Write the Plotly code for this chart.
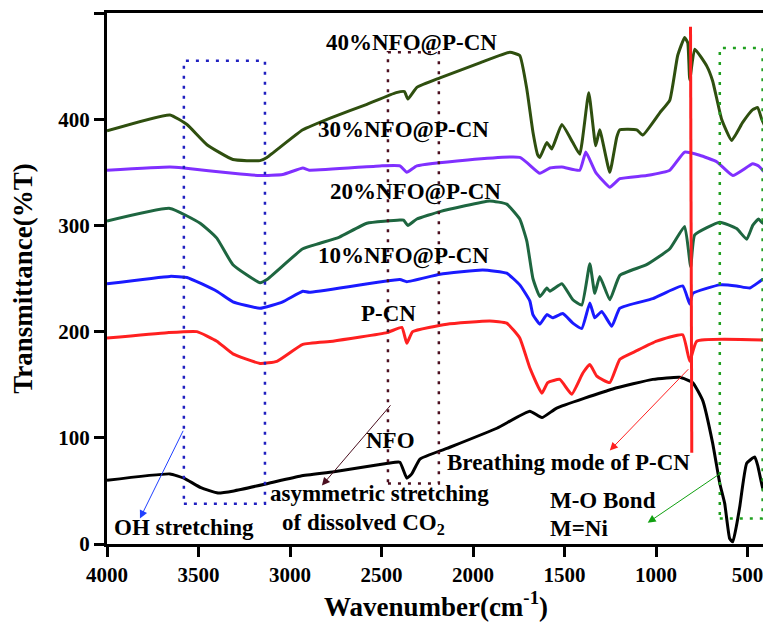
import plotly.graph_objects as go

# ---- data ----
wn_40 = [4000, 3656, 3563, 3454, 3312, 3164, 3126, 2930, 2766, 2580, 2420, 2375, 2356, 2307, 2181, 1963, 1799, 1745, 1706, 1673, 1646, 1635, 1597, 1570, 1515, 1455, 1417, 1368, 1330, 1308, 1253, 1215, 1198, 1106, 1073, 980, 925, 882, 844, 827, 816, 789, 723, 691, 642, 587, 527, 472, 445, 423, 407]
t_40 = [389, 404, 395, 376, 362, 361, 364, 390, 402, 414, 425, 426, 419, 430, 439, 453, 463, 460, 428, 388, 366, 364, 378, 372, 395, 378, 367, 425, 375, 390, 350, 383, 390, 390, 385, 406, 418, 460, 477, 472, 437, 466, 450, 436, 400, 380, 397, 409, 411, 400, 394]

wn_30 = [4000, 3656, 3580, 3312, 3164, 3040, 2930, 2895, 2509, 2400, 2362, 2307, 1745, 1635, 1580, 1515, 1417, 1384, 1330, 1253, 1198, 1052, 925, 844, 762, 669, 581, 472, 440, 407]
t_30 = [352, 355, 354, 349, 347, 348, 354, 352, 356, 356, 350, 356, 364, 349, 354, 355, 352, 369, 350, 336, 344, 347, 352, 369, 366, 360, 347, 358, 356, 350]

wn_20 = [4000, 3656, 3491, 3400, 3312, 3164, 3126, 2930, 2840, 2730, 2580, 2400, 2380, 2356, 2307, 2181, 1909, 1816, 1745, 1706, 1673, 1635, 1597, 1580, 1515, 1455, 1406, 1362, 1335, 1308, 1253, 1198, 1052, 925, 844, 811, 789, 652, 560, 505, 472, 440, 418, 407]
t_20 = [304, 316, 302, 288, 263, 246, 249, 278, 283, 289, 302, 305, 305, 300, 306, 313, 323, 320, 306, 285, 250, 233, 241, 238, 245, 230, 225, 264, 236, 252, 230, 253, 263, 278, 299, 261, 291, 303, 297, 287, 300, 306, 302, 306]

wn_10 = [4000, 3656, 3563, 3400, 3312, 3164, 3040, 2930, 2895, 2400, 2362, 2181, 1947, 1816, 1745, 1690, 1673, 1635, 1597, 1565, 1510, 1455, 1406, 1362, 1335, 1297, 1242, 1198, 1018, 855, 816, 800, 652, 560, 488, 418, 407]
t_10 = [245, 252, 251, 238, 228, 222, 228, 238, 237, 249, 247, 254, 258, 255, 244, 229, 216, 207, 216, 213, 217, 208, 203, 227, 213, 219, 205, 222, 231, 243, 226, 236, 244, 243, 241, 249, 249]

wn_pcn = [4000, 3672, 3509, 3400, 3312, 3164, 3072, 2930, 2766, 2470, 2389, 2362, 2330, 2143, 1909, 1816, 1745, 1690, 1624, 1592, 1526, 1461, 1400, 1362, 1324, 1253, 1198, 1106, 997, 855, 816, 778, 407]
t_pcn = [194, 199, 200, 191, 179, 170, 172, 188, 191, 199, 204, 189, 200, 207, 210, 208, 194, 166, 142, 152, 155, 141, 161, 169, 158, 152, 174, 182, 191, 197, 172, 191, 192]

wn_nfo = [4000, 3656, 3580, 3487, 3394, 3307, 3121, 2941, 2760, 2465, 2400, 2362, 2335, 2290, 2143, 1870, 1690, 1624, 1543, 1237, 1018, 871, 800, 745, 691, 652, 625, 598, 581, 560, 543, 505, 461, 445, 418, 407]
t_nfo = [60, 66, 62, 53, 48, 50, 57, 64, 68, 76, 77, 62, 66, 80, 90, 109, 125, 119, 128, 146, 155, 157, 152, 135, 95, 57, 38, 5, 2, 18, 35, 76, 82, 74, 53, 49]

series_names = ["40%NFO@P-CN", "30%NFO@P-CN", "20%NFO@P-CN", "10%NFO@P-CN", "P-CN", "NFO"]
series_colors = ["#2f4f0f", "#8030ff", "#1e6640", "#1a1aff", "#ff2020", "#000000"]
series_x = [wn_40, wn_30, wn_20, wn_10, wn_pcn, wn_nfo]
series_y = [t_40, t_30, t_20, t_10, t_pcn, t_nfo]

x_ticks = [4000, 3500, 3000, 2500, 2000, 1500, 1000, 500]
y_ticks = [0, 100, 200, 300, 400, 500]

FONT = "Liberation Serif"

fig = go.Figure()
for name, col, xs, ys in zip(series_names, series_colors, series_x, series_y):
    fig.add_trace(go.Scatter(x=xs, y=ys, mode="lines", name=name,
                             line=dict(color=col, width=3, shape="spline", smoothing=0.4),
                             showlegend=False))

# dotted boxes
boxes = [
    (3580, 3137, 38, 455, "#2020c0"),
    (2465, 2187, 57, 463, "#4a0f1f"),
    (652, 418, 24, 467, "#20a020"),
]
for x0, x1, y0, y1, c in boxes:
    fig.add_shape(type="rect", x0=x0, x1=x1, y0=y0, y1=y1,
                  line=dict(color=c, width=2.5, dash="3px,7px"), layer="above")

# red line (breathing mode)
fig.add_shape(type="line", x0=812, x1=805, y0=487, y1=86,
              line=dict(color="#ff2020", width=3))

# text labels
labels = [
    ("40%NFO@P-CN", 2334, 472, "center"),
    ("30%NFO@P-CN", 2378, 390, "center"),
    ("20%NFO@P-CN", 2313, 331, "center"),
    ("10%NFO@P-CN", 2378, 271, "center"),
    ("P-CN", 2460, 217, "center"),
    ("NFO", 2449, 97, "center"),
    ("asymmetric stretching", 2509, 48, "center"),
    ("of dissolved CO<sub>2</sub>", 2597, 19, "center"),
    ("OH stretching", 3580, 16, "center"),
    ("Breathing mode of P-CN", 1477, 77, "center"),
    ("M-O Bond", 1592, 41, "left"),
    ("M=Ni", 1592, 15, "left"),
]
for txt, x, y, al in labels:
    fig.add_annotation(x=x, y=y, text="<b>" + txt + "</b>", showarrow=False,
                       xanchor=al, yanchor="middle",
                       font=dict(family=FONT, size=23, color="black"))

# arrows (tail -> head)
arrows = [
    (3580, 108, 3820, 24, "#2040ff"),
    (2444, 132, 2826, 55, "#4a0f1f"),
    (816, 166, 1253, 88, "#ff2020"),
    (636, 68, 1046, 20, "#10a010"),
]
for ax, ay, x, y, c in arrows:
    fig.add_annotation(x=x, y=y, ax=ax, ay=ay, axref="x", ayref="y", xref="x", yref="y",
                       text="", showarrow=True, arrowhead=2, arrowsize=1.6,
                       arrowwidth=1, arrowcolor=c)

fig.update_layout(
    width=763, height=622,
    margin=dict(l=99, r=6, t=2, b=86),
    paper_bgcolor="white", plot_bgcolor="white",
    font=dict(family=FONT, color="black"),
)
fig.update_xaxes(range=[4000, 405], tickvals=x_ticks, ticktext=["<b>%d</b>" % v for v in x_ticks],
                 showline=True, linecolor="black", linewidth=3, mirror=True,
                 ticks="outside", ticklen=10, tickwidth=3, tickcolor="black",
                 showgrid=False, zeroline=False,
                 tickfont=dict(family=FONT, size=21, color="black"),
                 title=dict(text="<b>Wavenumber(cm<sup>-1</sup>)</b>", font=dict(family=FONT, size=27), standoff=10))
fig.update_yaxes(range=[0, 500], tickvals=y_ticks, ticktext=["<b>%d</b>" % v for v in y_ticks],
                 showline=True, linecolor="black", linewidth=3, mirror=True,
                 ticks="outside", ticklen=10, tickwidth=3, tickcolor="black",
                 showgrid=False, zeroline=False,
                 tickfont=dict(family=FONT, size=21, color="black"),
                 title=dict(text="<b>Transmittance(%T)</b>", font=dict(family=FONT, size=27), standoff=18))

fig.write_html("out.html")
